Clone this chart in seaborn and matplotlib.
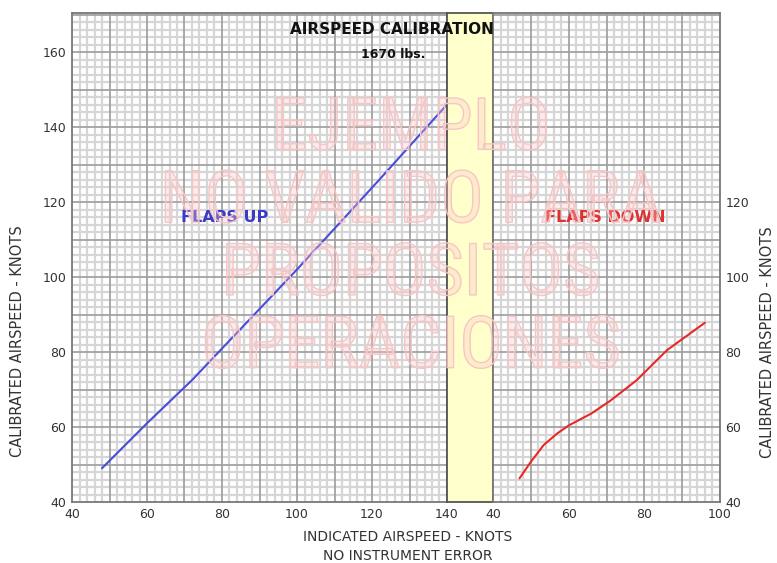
import matplotlib
matplotlib.use("Agg")
import matplotlib.pyplot as plt
import matplotlib.patheffects as pe
import seaborn as sns
import pandas as pd
from matplotlib.ticker import MultipleLocator

# Data
flaps_up_ias = [48, 60, 72, 100, 122, 140]
flaps_up_cas = [49, 61, 72.5, 102, 126, 146]
flaps_down_ias = [47, 50, 53.4, 57, 60, 66, 71, 78, 86, 96]
flaps_down_cas = [46.3, 50.7, 55.2, 58.3, 60.4, 63.6, 67, 72.5, 80.5, 87.8]

left_xticks = [40, 60, 80, 100, 120, 140]
left_yticks = [40, 60, 80, 100, 120, 140, 160]
right_xticks = [40, 60, 80, 100]
right_yticks = [40, 60, 80, 100, 120]
watermark = "EJEMPLO\nNO VALIDO PARA\nPROPOSITOS\nOPERACIONES"

sns.set_theme(style="white")
plt.rcParams["font.family"] = ["DejaVu Sans"]

fig = plt.figure(figsize=(7.77, 5.63), dpi=100)
W, H = 777, 563
def box(x0, x1, y0=13, y1=502):
    return [x0 / W, 1 - y1 / H, (x1 - x0) / W, (y1 - y0) / H]

ax_l = fig.add_axes(box(72, 447))
ax_y = fig.add_axes(box(447, 493))
ax_r = fig.add_axes(box(493, 720))

def style_grid(ax, xmax):
    ax.set_xlim(40, xmax)
    ax.set_ylim(40, 170.4)
    ax.xaxis.set_minor_locator(MultipleLocator(2))
    ax.yaxis.set_minor_locator(MultipleLocator(2))
    ax.grid(which="minor", color="#d6d6d6", lw=1.6)
    ax.grid(which="major", visible=False)
    ax.set_axisbelow(True)
    # darker lines every 10 knots, drawn over the light ones
    for v in range(50, int(xmax), 10):
        ax.axvline(v, color="#a2a2a2", lw=1.3, zorder=1)
    for v in range(50, 171, 10):
        ax.axhline(v, color="#a2a2a2", lw=1.3, zorder=1)
    ax.tick_params(which="both", length=0, labelsize=9, labelcolor="#333333", pad=4)
    for s in ax.spines.values():
        s.set_color("#777777")
        s.set_linewidth(1.3)

style_grid(ax_l, 140)
ax_l.set_xticks(range(40, 141, 10),
                [str(v) if v in left_xticks else "" for v in range(40, 141, 10)])
ax_l.set_yticks(range(40, 171, 10),
                [str(v) if v in left_yticks else "" for v in range(40, 171, 10)])

style_grid(ax_r, 100)
ax_r.set_xticks(range(40, 101, 10),
                [str(v) if v in right_xticks else "" for v in range(40, 101, 10)])
ax_r.set_yticks(range(40, 171, 10),
                [str(v) if v in right_yticks else "" for v in range(40, 171, 10)])
ax_r.yaxis.tick_right()

ax_y.set_facecolor("#ffffcc")
ax_y.set_xticks([])
ax_y.set_yticks([])
for s in ax_y.spines.values():
    s.set_color("#555555")
    s.set_linewidth(1.3)

up = pd.DataFrame({"ias": flaps_up_ias, "cas": flaps_up_cas})
down = pd.DataFrame({"ias": flaps_down_ias, "cas": flaps_down_cas})
sns.lineplot(data=up, x="ias", y="cas", ax=ax_l, color="#4b4bdc", lw=1.5, zorder=5)
sns.lineplot(data=down, x="ias", y="cas", ax=ax_r, color="#e82828", lw=1.5, zorder=5)
for ax in (ax_l, ax_r):
    ax.set_xlabel("")
    ax.set_ylabel("")

ax_l.text(80.8, 116, "FLAPS UP", color="#3b3bc8", fontsize=11.5, fontweight="bold",
          ha="center", va="center", zorder=6)
ax_r.text(69.6, 116, "FLAPS DOWN", color="#e03030", fontsize=11.5, fontweight="bold",
          ha="center", va="center", zorder=6)

# watermark: outlined, pale pink
fig.text(411 / W, 1 - 239 / H, watermark, fontsize=52, color=(1, 0.78, 0.78, 0.18),
         ha="center", va="center", linespacing=1.07,
         family=["Roboto Condensed", "Liberation Sans Narrow", "Roboto", "DejaVu Sans"],
         path_effects=[pe.withStroke(linewidth=1.0, foreground="#f5c6c6")], zorder=4)

fig.text(392 / W, 1 - 30 / H, "AIRSPEED CALIBRATION", fontsize=11, fontweight="bold",
         ha="center", va="center", color="#111111", zorder=7)
fig.text(393 / W, 1 - 55 / H, "1670 lbs.", fontsize=9, fontweight="bold",
         ha="center", va="center", color="#111111", zorder=7)

fig.text(408 / W, 1 - 537 / H, "INDICATED AIRSPEED - KNOTS", fontsize=10,
         ha="center", va="center", color="#333333")
fig.text(408 / W, 1 - 556 / H, "NO INSTRUMENT ERROR", fontsize=10,
         ha="center", va="center", color="#333333")
fig.text(18 / W, 1 - 341 / H, "CALIBRATED AIRSPEED - KNOTS", fontsize=10.5, rotation=90,
         ha="center", va="center", color="#333333")
fig.text(768 / W, 1 - 342 / H, "CALIBRATED AIRSPEED - KNOTS", fontsize=10.5, rotation=90,
         ha="center", va="center", color="#333333")

fig.savefig("out.png", dpi=100)
